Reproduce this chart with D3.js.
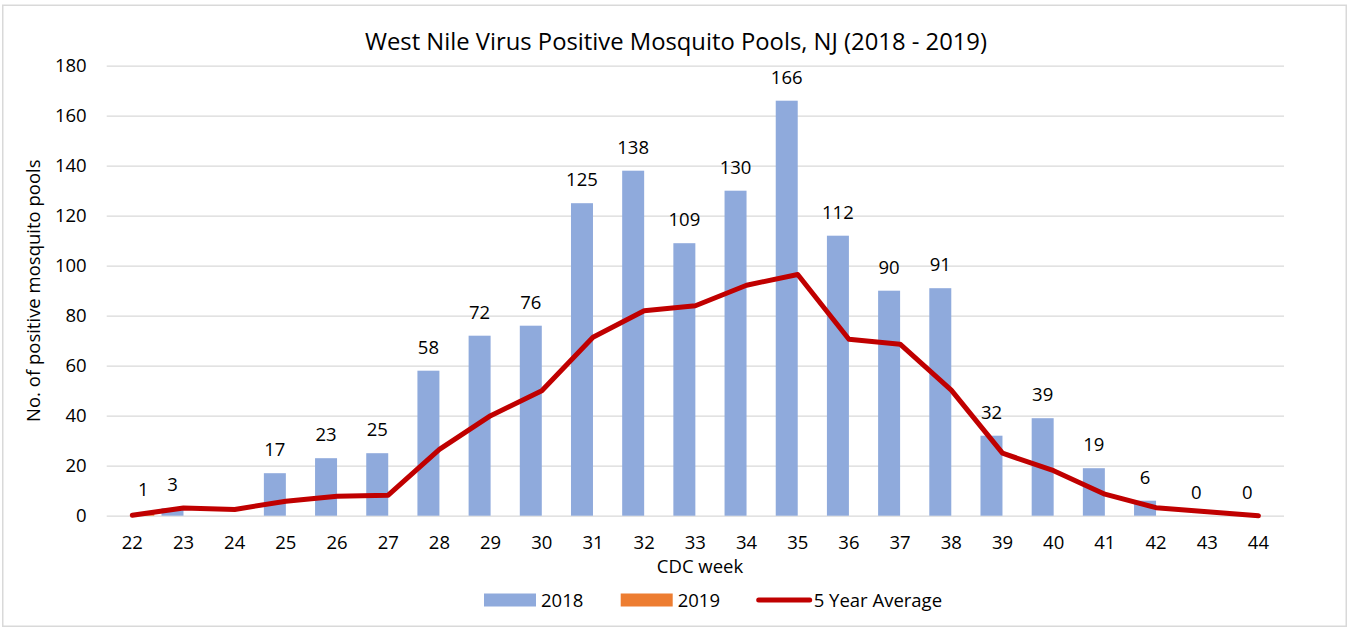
<!DOCTYPE html>
<html>
<head>
<meta charset="utf-8">
<script src="https://cdn.jsdelivr.net/npm/d3@7"></script>
<style>
  html, body { margin: 0; padding: 0; background: #fff; }
  svg { display: block; }
  text { font-family: "Open Sans", Lato, sans-serif; fill: #000; }
</style>
</head>
<body>
<svg id="chart" width="1348" height="629"></svg>
<script>
// ---- data ----
const weeks = ["22","23","24","25","26","27","28","29","30","31","32","33","34","35","36","37","38","39","40","41","42","43","44"];
const seriesNames = ["2018", "2019"];
const values2018 = [null, 3, null, 17, 23, 25, 58, 72, 76, 125, 138, 109, 130, 166, 112, 90, 91, 32, 39, 19, 6, 0, 0];
const values2019 = [1, null, null, null, null, null, null, null, null, null, null, null, null, null, null, null, null, null, null, null, null, null, null];
const avg5yr = [0.2, 3.1, 2.5, 5.8, 7.8, 8.2, 26.5, 40, 50, 71.4, 82, 84, 92.2, 96.5, 70.6, 68.6, 50.2, 25, 18, 8.6, 3.2, 1.6, 0];
const yTicks = [0, 20, 40, 60, 80, 100, 120, 140, 160, 180];
const titleText = "West Nile Virus Positive Mosquito Pools, NJ (2018 - 2019)";
const xTitle = "CDC week";
const yTitle = "No. of positive mosquito pools";
const legendLabels = ["2018", "2019", "5 Year Average"];

// ---- style ----
const colors = { "2018": "#8FAADC", "2019": "#ED7D31", avg: "#C00000" };
const grid = "#D9D9D9";
const plot = { left: 106.7, right: 1284, top: 65.7, bottom: 515.7 };
const FONT = "'Open Sans', Lato, sans-serif";
const FS = 18.5;

const svg = d3.select("#chart");

// border
svg.append("rect").attr("x", 2.75).attr("y", 5.25).attr("width", 1343.5).attr("height", 621)
  .attr("fill", "#fff").attr("stroke", grid).attr("stroke-width", 1.5);

// scales
const x = d3.scaleBand().domain(weeks).range([plot.left, plot.right]).padding(0);
const bw = x.bandwidth();
const x1 = d3.scaleBand().domain(seriesNames).range([0, bw]).paddingInner(0).paddingOuter(0.164);
const y = d3.scaleLinear().domain([0, 180]).range([plot.bottom, plot.top]);

// gridlines via axis
const yAxis = d3.axisLeft(y).tickValues(yTicks).tickSize(-(plot.right - plot.left)).tickPadding(20);
const gy = svg.append("g").attr("transform", `translate(${plot.left},0)`).call(yAxis);
gy.select(".domain").remove();
gy.selectAll(".tick line").attr("stroke", grid).attr("stroke-width", 1.3);
gy.selectAll(".tick text").attr("font-size", FS).attr("fill", "#000").attr("font-family", FONT);

// x axis labels
const xAxis = d3.axisBottom(x).tickSize(0).tickPadding(20);
const gx = svg.append("g").attr("transform", `translate(0,${plot.bottom})`).call(xAxis);
gx.select(".domain").remove();
gx.selectAll(".tick text").attr("font-size", FS).attr("fill", "#000").attr("font-family", FONT);

// bars
const seriesData = { "2018": values2018, "2019": values2019 };
seriesNames.forEach(s => {
  const pts = weeks.map((w, i) => ({ w, v: seriesData[s][i] })).filter(d => d.v !== null);
  svg.append("g").selectAll("rect").data(pts).join("rect")
    .attr("x", d => x(d.w) + x1(s))
    .attr("y", d => y(d.v))
    .attr("width", x1.bandwidth())
    .attr("height", d => y(0) - y(d.v))
    .attr("fill", colors[s]);
});

// line
const linePts = weeks.map((w, i) => ({ w, v: avg5yr[i] }));
const line = d3.line().x(d => x(d.w) + bw / 2).y(d => y(d.v));
svg.append("path").datum(linePts).attr("d", line)
  .attr("fill", "none").attr("stroke", colors.avg).attr("stroke-width", 5)
  .attr("stroke-linejoin", "round").attr("stroke-linecap", "round");

// data labels
seriesNames.forEach(s => {
  const pts = weeks.map((w, i) => ({ w, v: seriesData[s][i] })).filter(d => d.v !== null);
  svg.append("g").selectAll("text").data(pts).join("text")
    .attr("x", d => x(d.w) + x1(s) + x1.bandwidth() / 2)
    .attr("y", d => y(d.v) - 17)
    .attr("text-anchor", "middle").attr("font-size", FS)
    .text(d => d.v);
});

// title
svg.append("text").attr("x", 676).attr("y", 50).attr("text-anchor", "middle")
  .attr("font-size", 23.8).text(titleText);

// axis titles
svg.append("text").attr("x", 700).attr("y", 573).attr("text-anchor", "middle")
  .attr("font-size", FS).text(xTitle);
svg.append("text").attr("transform", `translate(40,${(plot.top + plot.bottom) / 2}) rotate(-90)`)
  .attr("text-anchor", "middle").attr("font-size", FS).text(yTitle);

// legend
const lg = svg.append("g");
const legendItems = [
  { label: legendLabels[0], type: "rect", color: colors["2018"], x: 484 },
  { label: legendLabels[1], type: "rect", color: colors["2019"], x: 620.7 },
  { label: legendLabels[2], type: "line", color: colors.avg, x: 756.7 }
];
legendItems.forEach(it => {
  if (it.type === "rect") {
    lg.append("rect").attr("x", it.x).attr("y", 593.5).attr("width", 52).attr("height", 13).attr("fill", it.color);
  } else {
    lg.append("line").attr("x1", it.x + 2).attr("x2", it.x + 53).attr("y1", 600).attr("y2", 600)
      .attr("stroke", it.color).attr("stroke-width", 5).attr("stroke-linecap", "round");
  }
  lg.append("text").attr("x", it.x + 57).attr("y", 607).attr("font-size", FS).text(it.label);
});
</script>
</body>
</html>
